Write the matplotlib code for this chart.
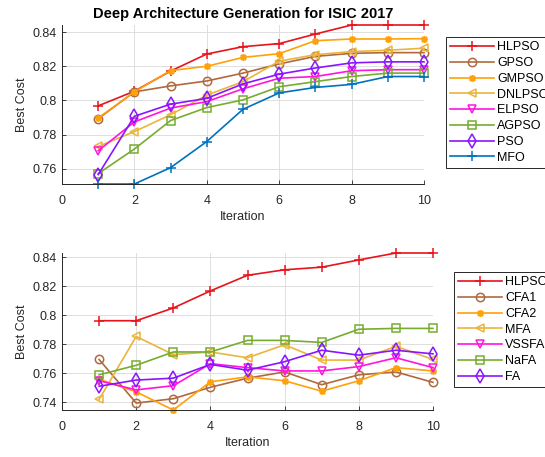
import matplotlib.pyplot as plt
import numpy as np

plt.rcParams['font.family'] = ['Liberation Sans', 'DejaVu Sans']
plt.rcParams['font.size'] = 9

# iterations
iters = np.arange(1, 11)

# top panel: ISIC 2017, PSO variants
hlpso_a = [0.7968, 0.8054, 0.8172, 0.8272, 0.8315, 0.8333, 0.8389, 0.8442, 0.8442, 0.8442]
gpso = [0.7893, 0.8050, 0.8085, 0.8114, 0.8160, 0.8214, 0.8258, 0.8276, 0.8280, 0.8280]
gmpso = [0.7897, 0.8050, 0.8175, 0.8200, 0.8252, 0.8274, 0.8350, 0.8360, 0.8360, 0.8362]
dnlpso = [0.7730, 0.7817, 0.7916, 0.8031, 0.8110, 0.8230, 0.8268, 0.8286, 0.8294, 0.8306]
elpso = [0.7705, 0.7874, 0.7955, 0.7993, 0.8068, 0.8130, 0.8140, 0.8174, 0.8180, 0.8180]
agpso = [0.7571, 0.7715, 0.7882, 0.7958, 0.8003, 0.8080, 0.8110, 0.8140, 0.8160, 0.8160]
pso = [0.7565, 0.7907, 0.7978, 0.8012, 0.8097, 0.8154, 0.8190, 0.8220, 0.8226, 0.8226]
mfo = [0.7510, 0.7510, 0.7606, 0.7759, 0.7948, 0.8044, 0.8076, 0.8094, 0.8140, 0.8140]

# bottom panel: firefly variants
hlpso_b = [0.7962, 0.7962, 0.8050, 0.8168, 0.8276, 0.8314, 0.8332, 0.8382, 0.8430, 0.8430]
cfa1 = [0.7694, 0.7393, 0.7423, 0.7502, 0.7565, 0.7608, 0.7520, 0.7588, 0.7608, 0.7536]
cfa2 = [0.7558, 0.7470, 0.7345, 0.7540, 0.7574, 0.7547, 0.7475, 0.7547, 0.7638, 0.7615]
mfa = [0.7418, 0.7853, 0.7728, 0.7746, 0.7706, 0.7796, 0.7690, 0.7690, 0.7785, 0.7694]
vssfa = [0.7547, 0.7484, 0.7513, 0.7665, 0.7638, 0.7615, 0.7615, 0.7645, 0.7706, 0.7638]
nafa = [0.7588, 0.7654, 0.7746, 0.7746, 0.7826, 0.7826, 0.7812, 0.7903, 0.7909, 0.7909]
fa = [0.7509, 0.7552, 0.7565, 0.7660, 0.7620, 0.7679, 0.7758, 0.7724, 0.7758, 0.7733]

asterisk = (8, 2, 0)
msizes = {'+': 7, 'o': 6, '<': 6, 'v': 6, 's': 5.5, 'd': 7, asterisk: 5}

top_series = [
    ('HLPSO', hlpso_a, '#e8141c', '+'),
    ('GPSO', gpso, '#b0693e', 'o'),
    ('GMPSO', gmpso, '#ffa10a', asterisk),
    ('DNLPSO', dnlpso, '#ebb43c', '<'),
    ('ELPSO', elpso, '#ff14e0', 'v'),
    ('AGPSO', agpso, '#77ac30', 's'),
    ('PSO', pso, '#8a14ff', 'd'),
    ('MFO', mfo, '#0072bd', '+'),
]

bottom_series = [
    ('HLPSO', hlpso_b, '#e8141c', '+'),
    ('CFA1', cfa1, '#b0693e', 'o'),
    ('CFA2', cfa2, '#ffa10a', asterisk),
    ('MFA', mfa, '#ebb43c', '<'),
    ('VSSFA', vssfa, '#ff14e0', 'v'),
    ('NaFA', nafa, '#77ac30', 's'),
    ('FA', fa, '#8a14ff', 'd'),
]

W, H = 545, 457
fig = plt.figure(figsize=(W / 100, H / 100), dpi=100)

ax1 = fig.add_axes([62 / W, 1 - 184 / H, (424 - 62) / W, (184 - 25) / H])
ax2 = fig.add_axes([62 / W, 1 - 410 / H, (433 - 62) / W, (410 - 253) / H])


def draw(ax, series, yticks, leg_xy):
    for name, vals, col, mk in series:
        ax.plot(iters, vals, color=col, lw=1.2, marker=mk, ms=msizes[mk],
                mfc='none', mec=col, mew=1.1, label=name, clip_on=False)
    allv = np.concatenate([np.asarray(s[1]) for s in series])
    ax.set_xlim(0, 10)
    ax.set_ylim(allv.min(), allv.max())
    ax.set_xticks(np.arange(0, 11, 2))
    ax.set_yticks(yticks)
    ax.set_yticklabels([f'{t:g}' for t in yticks])
    ax.grid(True, color='#dedede', lw=0.7)
    ax.set_axisbelow(True)
    for s in ['top', 'right']:
        ax.spines[s].set_visible(False)
    for s in ['left', 'bottom']:
        ax.spines[s].set_color('#262626')
        ax.spines[s].set_linewidth(0.7)
    ax.tick_params(direction='in', length=3, width=0.6, colors='#262626')
    ax.tick_params(axis='x', pad=8)
    ax.tick_params(axis='y', pad=4)
    ax.set_xlabel('Iteration', color='#262626', labelpad=3)
    ax.set_ylabel('Best Cost', color='#262626', labelpad=3)
    leg = ax.legend(loc='upper left', bbox_to_anchor=leg_xy,
                    bbox_transform=fig.transFigure, frameon=True,
                    fancybox=False, framealpha=1, edgecolor='#262626',
                    handlelength=3.5, handletextpad=0.25, labelspacing=0.3,
                    borderpad=0.35, borderaxespad=0)
    leg.get_frame().set_linewidth(0.7)


draw(ax1, top_series, [0.76, 0.78, 0.80, 0.82, 0.84], (446 / W, 1 - 37 / H))
draw(ax2, bottom_series, [0.74, 0.76, 0.78, 0.80, 0.82, 0.84], (454 / W, 1 - 272 / H))

ax1.set_title('Deep Architecture Generation for ISIC 2017', fontweight='bold',
              fontsize=10.5, pad=5)

fig.savefig('out.png', dpi=100)
